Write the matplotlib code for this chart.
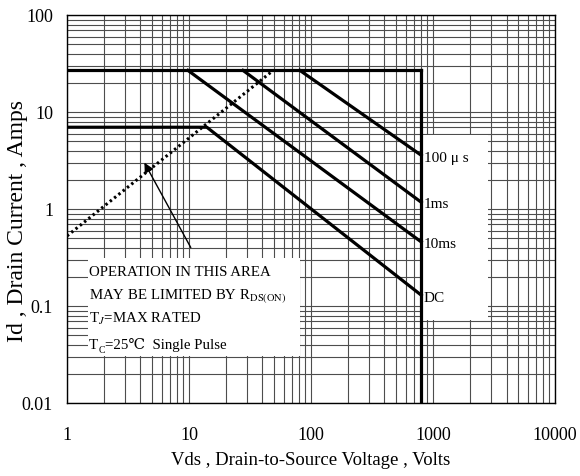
import matplotlib.pyplot as plt
from matplotlib.patches import Rectangle

# Safe operating area data
v_max = 800          # drain-source voltage limit
i_pulse = 27         # pulsed current limit

v_100us = [81, 800]
i_100us = [27, 3.6]
v_1ms = [27.7, 800]
i_1ms = [27, 1.18]
v_10ms = [9.8, 800]
i_10ms = [27, 0.46]
v_dc = [1, 14, 800]
i_dc = [7, 7, 0.13]

v_rds = [1, 49]
i_rds = [0.53, 27]

curve_labels = ['100 μ s', '1ms', '10ms', 'DC']
label_y = [3.3, 1.12, 0.43, 0.12]

x_ticks = [1, 10, 100, 1000, 10000]
x_ticklabels = ['1', '10', '100', '1000', '10000']
y_ticks = [0.01, 0.1, 1, 10, 100]
y_ticklabels = ['0.01', '0.1', '1', '10', '100']

serif = ['Liberation Serif', 'DejaVu Serif', 'DejaVu Sans']
plt.rcParams['font.family'] = serif
plt.rcParams['mathtext.fontset'] = 'stix'

fig = plt.figure(figsize=(5.8, 4.76), dpi=100)
ax = fig.add_axes([0.1155, 0.153, 0.8415, 0.815])
ax.set_xscale('log')
ax.set_yscale('log')
ax.set_xlim(1, 10000)
ax.set_ylim(0.01, 100)

ax.set_axisbelow(True)
ax.grid(True, which='both', color='0.3', lw=0.8)
ax.tick_params(which='both', length=0, labelsize=13)
ax.tick_params(axis='x', pad=17)
ax.tick_params(axis='y', pad=10)
ax.set_xticks(x_ticks)
ax.set_xticklabels(x_ticklabels)
ax.set_yticks(y_ticks)
ax.set_yticklabels(y_ticklabels)

# white areas behind the notes
ax.add_patch(Rectangle((1.49, 0.031), 80, 0.28, facecolor='white',
                       edgecolor='none', zorder=1))
ax.add_patch(Rectangle((830, 0.072), 1990, 5.7, facecolor='white',
                       edgecolor='none', zorder=1))

lw = 2.3
ax.plot([1, v_max], [i_pulse, i_pulse], color='k', lw=lw, zorder=3)
ax.plot([v_max, v_max], [i_pulse, 0.01], color='k', lw=lw, zorder=3)
ax.plot(v_100us, i_100us, color='k', lw=lw, zorder=3)
ax.plot(v_1ms, i_1ms, color='k', lw=lw, zorder=3)
ax.plot(v_10ms, i_10ms, color='k', lw=lw, zorder=3)
ax.plot(v_dc, i_dc, color='k', lw=lw, zorder=3)
ax.plot(v_rds, i_rds, color='k', lw=2.2, linestyle=(0, (0.8, 1.0)), zorder=3)

for lab, y in zip(curve_labels, label_y):
    ax.text(840, y, lab, fontsize=11, va='center', ha='left', zorder=4)

ax.annotate('', xy=(4.2, 3.2), xytext=(10.6, 0.38),
            arrowprops=dict(arrowstyle='-|>', color='k', lw=1.0,
                            mutation_scale=14), zorder=4)

# notes in the lower-left box
fs = 10.7
x0 = 1.52
ax.text(x0, 0.22, 'OPERATION IN THIS AREA', fontsize=fs, va='center', zorder=4)
ax.text(x0, 0.128, r'MAY BE LIMITED BY R$_{\mathrm{DS(ON)}}$', fontsize=fs,
        va='center', zorder=4)
ax.text(x0, 0.074, r'T$_J$=MAX RATED', fontsize=fs, va='center', zorder=4)
# T_C line built from pieces so the degree sign can fall back to DejaVu
y_tc = 0.036
ax.annotate('T', xy=(x0, y_tc), xytext=(0, 0), textcoords='offset points',
            fontsize=fs, va='baseline', ha='left', zorder=4)
ax.annotate('C', xy=(x0, y_tc), xytext=(6.7, -2.5), textcoords='offset points',
            fontsize=7, va='baseline', ha='left', zorder=4)
ax.annotate('=25℃  Single Pulse', xy=(x0, y_tc), xytext=(11.6, 0),
            textcoords='offset points', fontsize=fs, va='baseline', ha='left',
            zorder=4)

for s in ax.spines.values():
    s.set_linewidth(1.0)

ax.set_xlabel('Vds , Drain-to-Source Voltage , Volts', fontsize=13.5, labelpad=6)
ax.set_ylabel('Id , Drain Current , Amps', fontsize=17, va='center')
ax.yaxis.set_label_coords(-0.102, 0.47)

fig.savefig('out.png', dpi=100)
